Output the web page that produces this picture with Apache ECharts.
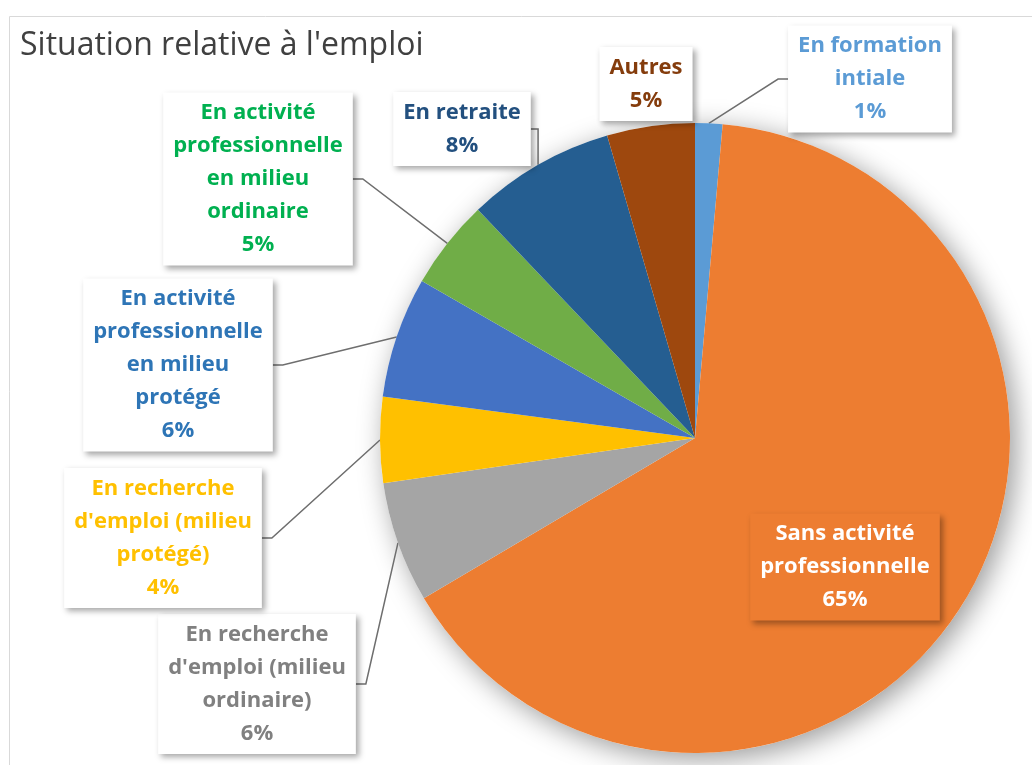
<!DOCTYPE html>
<html>
<head>
<meta charset="UTF-8">
<title>Situation relative à l'emploi</title>
<style>
  html, body { margin: 0; padding: 0; background: #fff; }
  #chart { width: 1032px; height: 765px; }
</style>
</head>
<body>
<div id="chart"></div>
<script src="https://cdn.jsdelivr.net/npm/echarts@6/dist/echarts.min.js"></script>
<script>
// données (parts en %)
var categories = [
  'En formation\nintiale',
  'Sans activité\nprofessionnelle',
  'En recherche\nd\'emploi (milieu\nordinaire)',
  'En recherche\nd\'emploi (milieu\nprotégé)',
  'En activité\nprofessionnelle\nen milieu\nprotégé',
  'En activité\nprofessionnelle\nen milieu\nordinaire',
  'En retraite',
  'Autres'
];
var values = [1.4, 65.1, 6.2, 4.4, 6.2, 4.6, 7.6, 4.5];

var sliceColors = ['#5B9BD5', '#ED7D31', '#A5A5A5', '#FFC000', '#4472C4', '#70AD47', '#255E91', '#9E480E'];
var textColors = ['#5B9BD5', '#FFFFFF', '#808080', '#FFC000', '#2E75B6', '#00B050', '#23507F', '#843C0C'];
// centre des étiquettes (px)
var labelPos = [[870, 79], [845, 567], [257, 684], [163, 538], [178, 365], [258, 179], [462, 129], [646, 84]];

var chart = echarts.init(document.getElementById('chart'));

var pieData = categories.map(function (c, i) {
  var d = {
    name: c,
    value: values[i],
    itemStyle: { color: sliceColors[i] },
    label: { color: textColors[i] }
  };
  if (i === 1) {
    d.label.position = 'inside';
    d.label.backgroundColor = '#ED7D31';
    d.labelLine = { show: false };
  }
  if (i === 7) {
    d.labelLine = { show: false };
  }
  return d;
});

chart.setOption({
  animation: false,
  title: {
    text: 'Situation relative à l\'emploi',
    left: 15,
    top: 25,
    textStyle: { fontFamily: 'Open Sans', fontWeight: 'normal', fontSize: 32, color: '#404040' }
  },
  graphic: [{
    type: 'rect',
    shape: { x: 9.5, y: 16.5, width: 1100, height: 900 },
    style: { fill: 'none', stroke: '#D9D9D9', lineWidth: 1 },
    silent: true
  }],
  series: [{
    // ombre sous le disque
    type: 'pie',
    center: [695, 438],
    radius: 315,
    silent: true,
    z: 1,
    label: { show: false },
    labelLine: { show: false },
    data: [{ value: 1, itemStyle: { color: '#fff', shadowBlur: 28, shadowColor: 'rgba(0,0,0,0.4)', shadowOffsetX: 6, shadowOffsetY: 6 } }]
  }, {
    type: 'pie',
    center: [695, 438],
    radius: 315,
    startAngle: 90,
    clockwise: true,
    z: 2,
    percentPrecision: 0,
    data: pieData,
    label: {
      show: true,
      position: 'outside',
      formatter: '{b}\n{d}%',
      fontFamily: 'Open Sans',
      fontWeight: 'bold',
      fontSize: 22,
      lineHeight: 33,
      align: 'center',
      overflow: 'none',
      backgroundColor: '#fff',
      padding: [4, 10],
      shadowBlur: 6,
      shadowColor: 'rgba(0,0,0,0.35)',
      shadowOffsetX: 3,
      shadowOffsetY: 3
    },
    labelLine: {
      show: true,
      length: 10,
      length2: 10,
      lineStyle: { color: '#6E6E6E', width: 1.5 }
    },
    labelLayout: function (p) {
      var q = labelPos[p.dataIndex];
      return { x: q[0], y: q[1], align: 'center', verticalAlign: 'middle' };
    }
  }]
});
</script>
</body>
</html>
